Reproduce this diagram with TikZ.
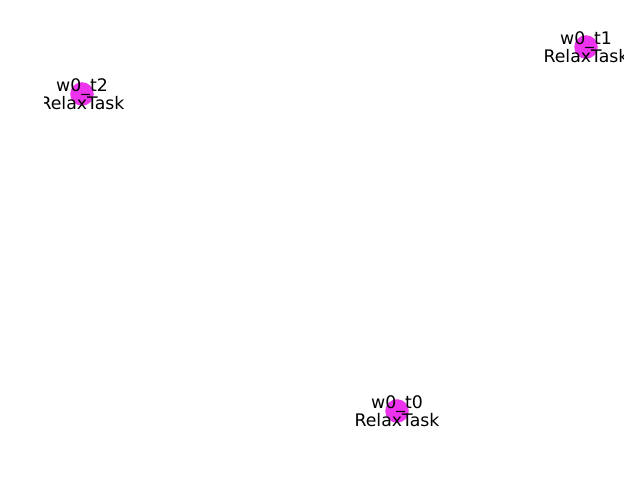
\documentclass[tikz,border=0pt]{standalone}
\usepackage{fontspec}
\setmainfont{DejaVu Sans}
\definecolor{cmagenta}{HTML}{EE33EE}
\tikzset{
  every picture/.style={x=0.01in, y=-0.01in},
  task/.style={circle, fill=cmagenta, draw=none, minimum size=0.235in, inner sep=0pt},
  tasklabel/.style={font=\fontsize{12.5}{13}\selectfont, align=center, inner sep=0pt},
}

\begin{document}
\begin{tikzpicture}
  \useasboundingbox (0,0) rectangle (640,480);
  \node[task] (t0) at (397,411) {};
  \node[task] (t1) at (586,47) {};
  \node[task] (t2) at (82,94) {};
  % labels are cut at the plot area
  \begin{scope}
    \clip (44.5,0) rectangle (623,480);
    \foreach \n in {0,1,2}
      \node[tasklabel] (l\n) at (t\n) {w0\_t\n\\RelaxTask};
  \end{scope}
\end{tikzpicture}
\end{document}
